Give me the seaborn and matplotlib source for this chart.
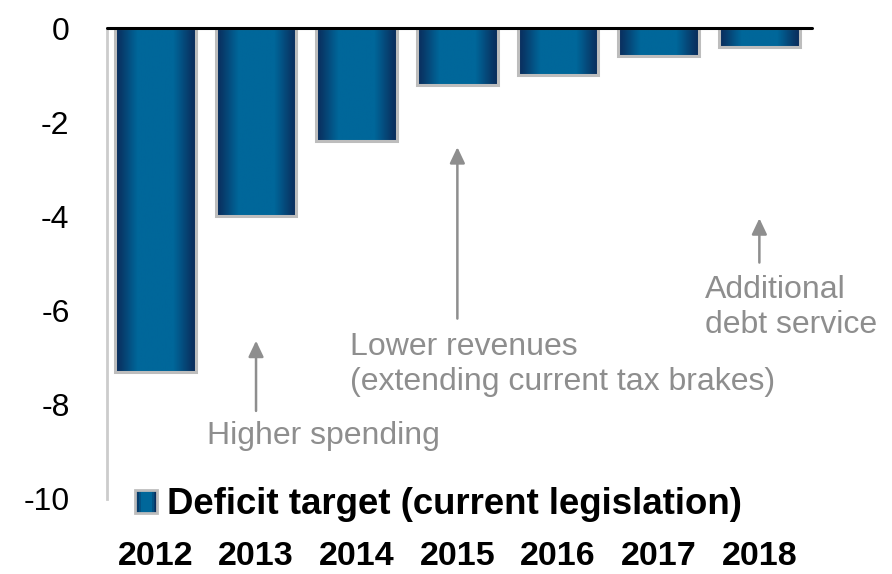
import numpy as np
import matplotlib
matplotlib.use("Agg")
import matplotlib.pyplot as plt
from matplotlib.patches import Rectangle
from matplotlib.legend_handler import HandlerBase
from matplotlib.colors import to_rgb
import seaborn as sns

# Federal deficit path under current legislation (% of GDP)
years = ["2012", "2013", "2014", "2015", "2016", "2017", "2018"]
deficit = [-7.3, -4.0, -2.4, -1.2, -1.0, -0.6, -0.4]
yticks = [0, -2, -4, -6, -8, -10]

series_label = "Deficit target (current legislation)"
notes = [
    {"text": "Higher spending", "text_xy": (0.51, -8.66), "arrow_x": 1.0, "arrow_from": -8.13, "arrow_to": -6.64},
    {"text": "Lower revenues\n(extending current tax brakes)", "text_xy": (1.93, -7.15), "arrow_x": 3.0, "arrow_from": -6.17, "arrow_to": -2.53},
    {"text": "Additional\ndebt service", "text_xy": (5.46, -5.94), "arrow_x": 6.0, "arrow_from": -4.98, "arrow_to": -4.04},
]

DARK = np.array(to_rgb("#0A2D5C"))
LIGHT = np.array(to_rgb("#00679A"))
EDGE = "#BDBDBD"
NOTE_GREY = "#8E8E8E"


def gradient_row(n=200):
    t = np.linspace(0, 1, n)
    s = np.clip(np.sin(np.pi * t) * 1.3, 0, 1) ** 1.3
    return DARK[None, :] + (LIGHT - DARK)[None, :] * s[:, None]


sns.set_theme(style="white")
plt.rcParams["font.family"] = ["Liberation Sans", "DejaVu Sans"]
plt.rcParams["text.color"] = "black"

fig = plt.figure(figsize=(8.92, 5.74), dpi=100)
ax = fig.add_axes([0.12, 0.1307, 0.79, 0.8205])

sns.barplot(x=years, y=deficit, width=0.8, color="#0B4A80", ax=ax, zorder=2)

grad = gradient_row()[None, :, :]
for patch in ax.patches:
    x0, y0 = patch.get_x(), patch.get_y()
    w, h = patch.get_width(), patch.get_height()
    im = ax.imshow(grad, extent=[x0, x0 + w, y0 + h, y0], aspect="auto",
                   interpolation="bilinear", zorder=2)
    im.set_clip_path(patch)
    patch.set_facecolor("none")
    patch.set_edgecolor(EDGE)
    patch.set_linewidth(2.2)
    patch.set_zorder(3)

ax.set_xlim(-0.48, 6.52)
ax.set_ylim(-10, 0)
ax.set_aspect("auto")

# zero line across the top
ax.axhline(0, color="black", lw=2.2, zorder=5, clip_on=False)

for side in ["top", "right", "bottom"]:
    ax.spines[side].set_visible(False)
ax.spines["left"].set_color("#CCCCCC")
ax.spines["left"].set_linewidth(2)

ax.set_yticks(yticks)
ax.set_yticklabels([str(v) for v in yticks])
ax.tick_params(axis="y", direction="in", length=8, width=2, color="#CCCCCC",
               pad=27, labelsize=23, labelcolor="black")
ax.tick_params(axis="x", length=0, pad=30, labelsize=24.5, labelcolor="black")
for lab in ax.get_xticklabels():
    lab.set_fontweight("bold")
ax.set_xlabel("")
ax.set_ylabel("")

for n in notes:
    ax.annotate("", xy=(n["arrow_x"], n["arrow_to"]), xytext=(n["arrow_x"], n["arrow_from"]),
                arrowprops=dict(arrowstyle="-|>,head_length=0.8,head_width=0.38",
                                color=NOTE_GREY, lw=1.8, shrinkA=0, shrinkB=0), zorder=4)
    ax.text(n["text_xy"][0], n["text_xy"][1], n["text"], color=NOTE_GREY, fontsize=23,
            ha="left", va="center", linespacing=1.22, zorder=4)


class GradientSquare(HandlerBase):
    def create_artists(self, legend, orig_handle, xdescent, ydescent, width, height,
                       fontsize, trans):
        cols = gradient_row(12)
        artists = []
        sw = width / len(cols)
        for i, c in enumerate(cols):
            artists.append(Rectangle((-xdescent + i * sw, -ydescent), sw * 1.02, height,
                                     facecolor=c, edgecolor="none", transform=trans))
        artists.append(Rectangle((-xdescent, -ydescent), width, height, facecolor="none",
                                 edgecolor=EDGE, lw=2, transform=trans))
        return artists


handle = Rectangle((0, 0), 1, 1)
leg = ax.legend([handle], [series_label], handler_map={Rectangle: GradientSquare()},
                loc="center left", bbox_to_anchor=(0.04, -0.012), frameon=False,
                prop={"size": 26.4, "weight": "bold"}, handlelength=0.6, handleheight=0.6,
                handletextpad=0.28, borderpad=0, borderaxespad=0)
for t in leg.get_texts():
    t.set_color("black")

fig.savefig("out.png", dpi=100)
